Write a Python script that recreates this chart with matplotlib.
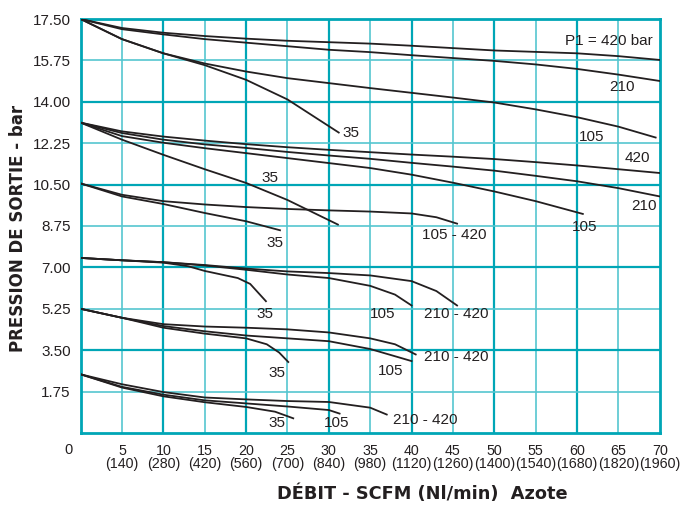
import matplotlib
matplotlib.use('Agg')
import matplotlib.pyplot as plt

plt.rcParams['font.family'] = ['Liberation Sans', 'DejaVu Sans']
plt.rcParams['font.size'] = 11

# flow (SCFM) and outlet pressure (bar)
# group P2 = 17.5
g1_x_long = [0, 5, 10, 15, 20, 25, 30, 35, 40, 45, 50, 55, 60, 65, 70]
g1_420 = [17.5, 17.12, 16.92, 16.78, 16.67, 16.58, 16.52, 16.46, 16.37, 16.27, 16.17, 16.11, 16.05, 15.93, 15.77]
g1_210 = [17.5, 17.07, 16.85, 16.65, 16.5, 16.35, 16.2, 16.1, 15.97, 15.85, 15.73, 15.58, 15.39, 15.15, 14.88]
g1_105_x = [0, 5, 10, 15, 20, 25, 30, 35, 40, 45, 50, 55, 60, 65, 69.5]
g1_105 = [17.5, 16.65, 16.05, 15.62, 15.28, 15.0, 14.79, 14.58, 14.38, 14.18, 13.97, 13.68, 13.35, 12.95, 12.49]
g1_35_x = [0, 5, 10, 15, 20, 25, 31.2]
g1_35 = [17.5, 16.65, 16.05, 15.55, 14.93, 14.1, 12.7]

# group P2 = 13.1
g2_420 = [13.12, 12.75, 12.53, 12.36, 12.21, 12.08, 11.97, 11.87, 11.77, 11.68, 11.58, 11.45, 11.31, 11.15, 10.99]
g2_210 = [13.12, 12.68, 12.4, 12.2, 12.05, 11.88, 11.73, 11.59, 11.42, 11.26, 11.09, 10.87, 10.64, 10.35, 10.0]
g2_105_x = [0, 5, 10, 15, 20, 25, 30, 35, 40, 45, 50, 55, 60.7]
g2_105 = [13.12, 12.55, 12.27, 12.04, 11.83, 11.62, 11.41, 11.2, 10.92, 10.58, 10.21, 9.8, 9.26]
g2_35_x = [0, 5, 10, 15, 20, 25, 31.1]
g2_35 = [13.12, 12.4, 11.76, 11.15, 10.57, 9.85, 8.81]

# group P2 = 10.5
g3_hi_x = [0, 5, 10, 15, 20, 25, 30, 35, 40, 43, 45.5]
g3_hi = [10.55, 10.07, 9.8, 9.66, 9.55, 9.47, 9.41, 9.36, 9.28, 9.12, 8.85]
g3_35_x = [0, 5, 10, 15, 20, 24.1]
g3_35 = [10.55, 10.0, 9.68, 9.3, 8.95, 8.57]

# group P2 = 7.4
g4_hi_x = [0, 5, 10, 15, 20, 25, 30, 35, 40, 43, 45.5]
g4_hi = [7.4, 7.3, 7.22, 7.1, 6.95, 6.83, 6.76, 6.66, 6.42, 6.0, 5.39]
g4_105_x = [0, 5, 10, 15, 20, 25, 30, 35, 38, 40]
g4_105 = [7.4, 7.3, 7.22, 7.08, 6.9, 6.7, 6.55, 6.22, 5.85, 5.39]
g4_35_x = [0, 5, 10, 13, 15, 17, 19, 20.5, 22.4]
g4_35 = [7.4, 7.3, 7.2, 7.05, 6.85, 6.7, 6.55, 6.3, 5.57]

# group P2 = 5.25
g5_hi_x = [0, 5, 10, 15, 20, 25, 30, 35, 38, 40.5]
g5_hi = [5.25, 4.87, 4.6, 4.5, 4.45, 4.38, 4.25, 4.0, 3.75, 3.32]
g5_105_x = [0, 5, 10, 15, 20, 25, 30, 35, 40]
g5_105 = [5.25, 4.87, 4.52, 4.3, 4.12, 4.0, 3.88, 3.55, 3.04]
g5_35_x = [0, 5, 10, 15, 20, 22.5, 24, 25.1]
g5_35 = [5.25, 4.87, 4.45, 4.2, 4.0, 3.75, 3.4, 3.0]

# group P2 = 2.5
g6_hi_x = [0, 5, 10, 15, 20, 25, 30, 35, 37]
g6_hi = [2.48, 2.06, 1.73, 1.5, 1.42, 1.35, 1.31, 1.07, 0.78]
g6_105_x = [0, 5, 10, 15, 20, 25, 30, 31.3]
g6_105 = [2.48, 1.95, 1.62, 1.38, 1.25, 1.12, 0.97, 0.82]
g6_35_x = [0, 5, 10, 15, 20, 23.5, 25.7]
g6_35 = [2.48, 1.92, 1.55, 1.3, 1.1, 0.9, 0.62]

curves = [
    (g1_x_long, g1_420), (g1_x_long, g1_210), (g1_105_x, g1_105), (g1_35_x, g1_35),
    (g1_x_long, g2_420), (g1_x_long, g2_210), (g2_105_x, g2_105), (g2_35_x, g2_35),
    (g3_hi_x, g3_hi), (g3_35_x, g3_35),
    (g4_hi_x, g4_hi), (g4_105_x, g4_105), (g4_35_x, g4_35),
    (g5_hi_x, g5_hi), (g5_105_x, g5_105), (g5_35_x, g5_35),
    (g6_hi_x, g6_hi), (g6_105_x, g6_105), (g6_35_x, g6_35),
]

labels = [
    ('P1 = 420 bar', 63.8, 16.58), ('210', 65.4, 14.62), ('105', 61.8, 12.53), ('35', 32.7, 12.69),
    ('420', 67.3, 11.62), ('210', 68.1, 9.58), ('105', 60.9, 8.69), ('35', 22.9, 10.79),
    ('105 - 420', 45.2, 8.39), ('35', 23.5, 8.05),
    ('35', 22.3, 5.01), ('105', 36.5, 5.04), ('210 - 420', 45.4, 5.05),
    ('210 - 420', 45.4, 3.21), ('105', 37.5, 2.62), ('35', 23.7, 2.55),
    ('210 - 420', 41.6, 0.54), ('105', 30.9, 0.41), ('35', 23.7, 0.41),
]

xticks = [5, 10, 15, 20, 25, 30, 35, 40, 45, 50, 55, 60, 65, 70]
nlmin = [140, 280, 420, 560, 700, 840, 980, 1120, 1260, 1400, 1540, 1680, 1820, 1960]
yticks = [1.75, 3.5, 5.25, 7.0, 8.75, 10.5, 12.25, 14.0, 15.75, 17.5]

teal = '#00a6b6'
light = '#55c6d0'

fig = plt.figure(figsize=(6.83, 5.07), dpi=100)
ax = fig.add_axes([0.118, 0.146, 0.848, 0.8165])

for x in range(5, 70, 5):
    if x % 10 == 0:
        ax.axvline(x, color=teal, lw=1.6, zorder=1)
    else:
        ax.axvline(x, color=light, lw=1.2, zorder=1)
for i, y in enumerate(yticks[:-1]):
    if (i + 1) % 2 == 0:
        ax.axhline(y, color=teal, lw=1.6, zorder=1)
    else:
        ax.axhline(y, color=light, lw=1.2, zorder=1)

for xs, ys in curves:
    ax.plot(xs, ys, color='#231f20', lw=1.3, zorder=3)

for txt, x, y in labels:
    ax.text(x, y, txt, ha='center', va='center', fontsize=11, color='#231f20', zorder=4)

ax.set_xlim(0, 70)
ax.set_ylim(0, 17.5)
ax.set_xticks(xticks)
ax.set_xticklabels(['%d\n(%d)' % (a, b) for a, b in zip(xticks, nlmin)], linespacing=0.9,
                   fontsize=10.3)
ax.set_yticks(yticks)
ax.set_yticklabels(['%.2f' % y for y in yticks])
ax.tick_params(length=0, colors='#231f20')
ax.tick_params(axis='y', pad=7)
ax.tick_params(axis='x', pad=8)
for s in ax.spines.values():
    s.set_color(teal)
    s.set_linewidth(2)

ax.text(-1.5, -0.72, '0', ha='center', va='center', fontsize=10.5, color='#231f20')

bold = ['DejaVu Sans']
fig.text(0.618, 0.026, 'DÉBIT - SCFM (Nl/min)  Azote', ha='center', va='center',
         fontsize=12.8, fontweight='bold', family=bold, color='#231f20')
fig.text(0.026, 0.55, 'PRESSION DE SORTIE - bar', ha='center', va='center', rotation=90,
         fontsize=12, fontweight='bold', family=bold, color='#231f20')

plt.savefig('out.png', dpi=100)
